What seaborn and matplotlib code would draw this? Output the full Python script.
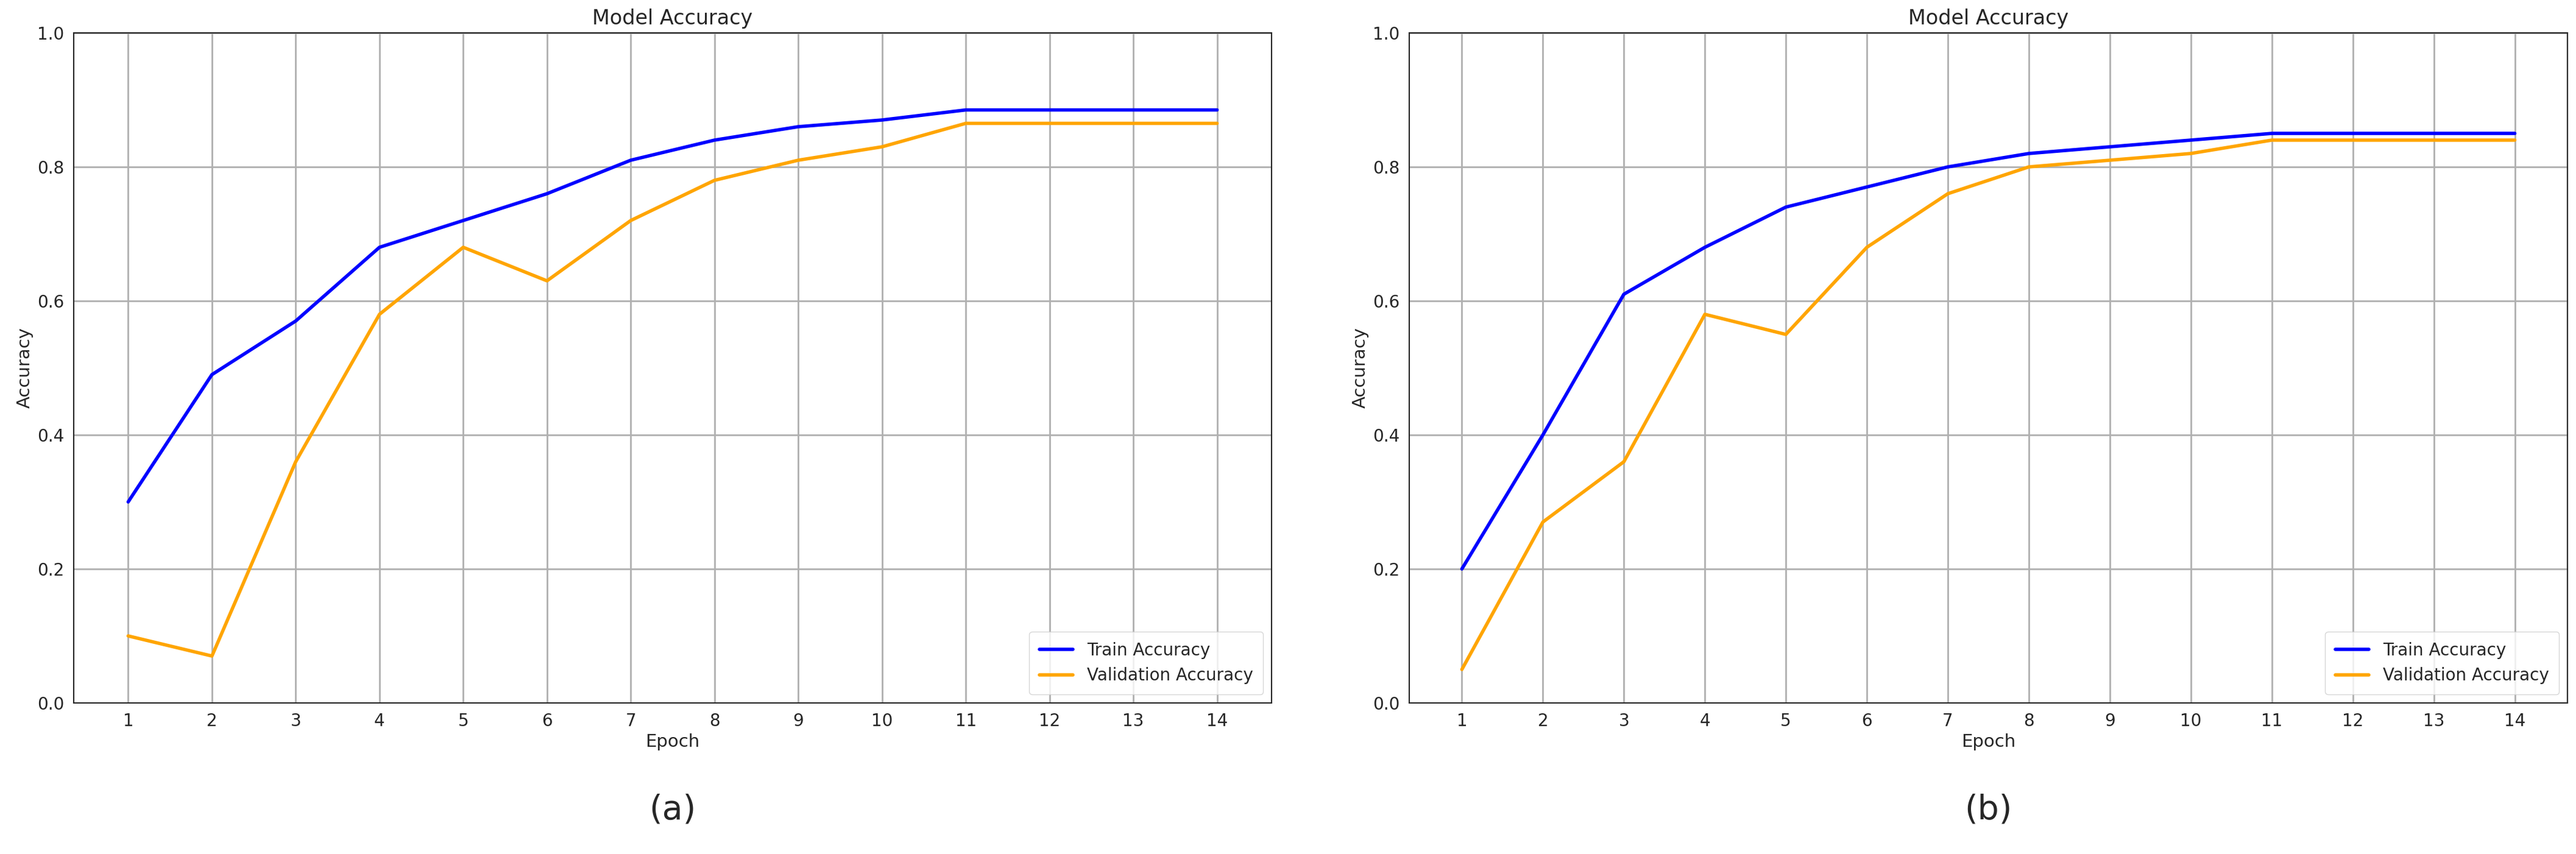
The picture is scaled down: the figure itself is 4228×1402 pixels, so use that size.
import matplotlib
matplotlib.use("Agg")
import matplotlib.pyplot as plt
import seaborn as sns
import pandas as pd

epochs = list(range(1, 15))
train_a = [0.30, 0.49, 0.57, 0.68, 0.72, 0.76, 0.81, 0.84, 0.86, 0.87, 0.885, 0.885, 0.885, 0.885]
val_a = [0.10, 0.07, 0.36, 0.58, 0.68, 0.63, 0.72, 0.78, 0.81, 0.83, 0.865, 0.865, 0.865, 0.865]
train_b = [0.20, 0.40, 0.61, 0.68, 0.74, 0.77, 0.80, 0.82, 0.83, 0.84, 0.85, 0.85, 0.85, 0.85]
val_b = [0.05, 0.27, 0.36, 0.58, 0.55, 0.68, 0.76, 0.80, 0.81, 0.82, 0.84, 0.84, 0.84, 0.84]
panel_labels = ["(a)", "(b)"]

sns.set_style("white")
plt.rcParams['font.family'] = ['DejaVu Sans']

fig = plt.figure(figsize=(42.28, 14.02), dpi=100)
axes = [fig.add_axes([121/4228, 1-1154/1402, (2087-121)/4228, (1154-54)/1402]),
        fig.add_axes([2313/4228, 1-1154/1402, (4214-2313)/4228, (1154-54)/1402])]

for ax, tr, va, lab in zip(axes, [train_a, train_b], [val_a, val_b], panel_labels):
    df = pd.DataFrame({"Epoch": epochs, "Train Accuracy": tr, "Validation Accuracy": va})
    sns.lineplot(data=df, x="Epoch", y="Train Accuracy", ax=ax, color="blue", lw=4, label="Train Accuracy")
    sns.lineplot(data=df, x="Epoch", y="Validation Accuracy", ax=ax, color="orange", lw=4, label="Validation Accuracy")
    ax.set_ylim(0, 1.0)
    ax.set_xticks(epochs)
    ax.grid(True, color="#b0b0b0", lw=2)
    ax.tick_params(labelsize=20, length=8, width=1.5)
    ax.set_xlabel("Epoch", fontsize=21)
    ax.set_ylabel("Accuracy", fontsize=21)
    ax.set_title("Model Accuracy", fontsize=24, pad=10)
    for s in ax.spines.values():
        s.set_linewidth(1.5)
    ax.legend(loc="lower right", fontsize=20, borderpad=0.6)
    pos = ax.get_position()
    fig.text(pos.x0 + pos.width/2, 1-1330/1402, lab, fontsize=40, ha="center", va="center")

fig.savefig("out.png", dpi=100, facecolor="white")
